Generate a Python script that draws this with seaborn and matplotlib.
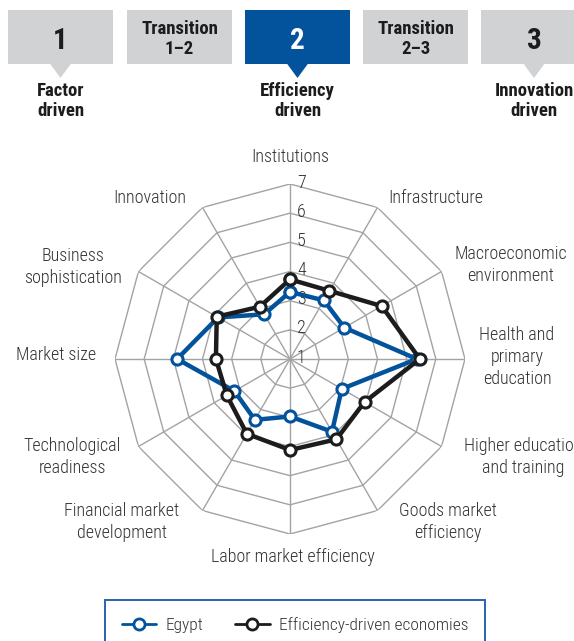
import numpy as np
import pandas as pd
import matplotlib
matplotlib.use("Agg")
import matplotlib.pyplot as plt
from matplotlib.patches import Rectangle, Polygon
from matplotlib.lines import Line2D
import seaborn as sns

# %%
pillars = [
    "Institutions", "Infrastructure", "Macroeconomic\nenvironment",
    "Health and\nprimary\neducation", "Higher education\nand training",
    "Goods market\nefficiency", "Labor market efficiency",
    "Financial market\ndevelopment", "Technological\nreadiness",
    "Market size", "Business\nsophistication", "Innovation",
]
egypt = [3.30, 3.32, 3.15, 5.35, 3.05, 3.88, 2.97, 3.41, 3.20, 4.87, 3.85, 2.77]
efficiency_driven = [3.73, 3.70, 4.63, 5.45, 3.95, 4.18, 4.12, 3.96, 3.50, 3.54, 3.90, 3.07]
ring_ticks = [1, 2, 3, 4, 5, 6, 7]
stages = ["1", "Transition\n1\u20132", "2", "Transition\n2\u20133", "3"]
stage_names = ["Factor\ndriven", "Efficiency\ndriven", "Innovation\ndriven"]
series_names = ["Egypt", "Efficiency-driven economies"]

W, H = 574, 641
BLUE = "#03529c"
DARK = "#1c1c1c"
GRID = "#a3a3a3"
TXT = "#333333"
GRAYBOX = "#d1d2d4"

sns.set_theme(style="white")
plt.rcParams["font.family"] = ["Roboto Condensed", "DejaVu Sans Condensed",
                               "Liberation Sans Narrow", "Roboto", "DejaVu Sans"]


def fx(x):
    return x / W


def fy(y):
    return 1 - y / H


fig = plt.figure(figsize=(W / 100, H / 100), dpi=100)

# ---- header boxes
boxes = [(8, 113), (127, 232), (245, 350), (363, 468), (481, 590)]
for i, ((x0, x1), lab) in enumerate(zip(boxes, stages)):
    main = i in (0, 2, 4)
    fc = BLUE if i == 2 else GRAYBOX
    fig.add_artist(Rectangle((fx(x0), fy(64)), fx(x1 - x0), (64 - 10) / H,
                             transform=fig.transFigure, facecolor=fc, edgecolor="none"))
    cx = (x0 + x1) / 2 if i < 4 else 534
    if main:
        fig.add_artist(Polygon([(fx(cx - 11), fy(63)), (fx(cx + 11), fy(63)), (fx(cx), fy(78))],
                               closed=True, transform=fig.transFigure, facecolor=fc, edgecolor="none"))
        fig.text(fx(cx), fy(41), lab, ha="center", va="center", fontsize=21,
                 fontweight="bold", color="white" if i == 2 else DARK)
        fig.text(fx(cx), fy(101), stage_names[i // 2], ha="center", va="center",
                 fontsize=13.5, fontweight="bold", color=DARK, linespacing=1.1)
    else:
        fig.text(fx(cx), fy(39), lab, ha="center", va="center", fontsize=13.5,
                 fontweight="bold", color=DARK, linespacing=1.1)

# ---- radar
cx, cy, R = 290, 359, 175
ax = fig.add_axes([fx(cx - R), fy(cy + R), 2 * R / W, 2 * R / H], projection="polar")
ax.set_theta_zero_location("N")
ax.set_theta_direction(-1)
ax.set_ylim(1, 7)
ax.grid(False)
ax.spines["polar"].set_visible(False)
ax.set_facecolor("none")

n = len(pillars)
theta = np.linspace(0, 2 * np.pi, n, endpoint=False)
theta_closed = np.append(theta, 2 * np.pi)

for k in ring_ticks[1:]:
    ax.plot(theta_closed, [k] * (n + 1), color=GRID, lw=1, zorder=1)
for t in theta:
    ax.plot([t, t], [ring_ticks[0], ring_ticks[-1]], color=GRID, lw=1, zorder=1)
for k in ring_ticks:
    ax.annotate(str(k), xy=(0, k), xytext=(5, 1), textcoords="offset points",
                ha="left", va="center", fontsize=13, fontweight="light",
                color=TXT, zorder=2)

df = pd.DataFrame({
    "theta": np.concatenate([theta_closed, theta_closed]),
    "score": egypt + egypt[:1] + efficiency_driven + efficiency_driven[:1],
    "series": [series_names[0]] * (n + 1) + [series_names[1]] * (n + 1),
})
for name, col in zip(series_names, [BLUE, DARK]):
    sns.lineplot(data=df[df["series"] == name], x="theta", y="score", ax=ax, sort=False,
                 color=col, lw=3.2, marker="o", markersize=8, markerfacecolor="white",
                 markeredgecolor=col, markeredgewidth=2.2, legend=False, zorder=3)
ax.set_xlabel("")
ax.set_ylabel("")
ax.set_xticks([])
ax.set_yticks([])
ax.set_ylim(1, 7)

# category labels (pixel centres)
label_pos = [(290, 157), (436, 198), (511, 265), (517, 357), (523, 457), (448, 522),
             (293, 557), (122, 522), (72, 457), (56, 355), (73, 267), (150, 198)]
for lab, (x, y) in zip(pillars, label_pos):
    fig.text(fx(x), fy(y), lab, ha="center", va="center", fontsize=13,
             fontweight="light", color=TXT, linespacing=1.25)

# ---- legend
fig.add_artist(Rectangle((fx(105), fy(652)), fx(380), 52 / H, transform=fig.transFigure,
                         facecolor="white", edgecolor="#2a63ad", lw=1.4))
handles = [Line2D([], [], color=c, lw=2, marker="o", markersize=8, markerfacecolor="white",
                  markeredgecolor=c, markeredgewidth=2) for c in [BLUE, DARK]]
fig.legend(handles, series_names, loc="center left", bbox_to_anchor=(fx(106), fy(625)),
           ncol=2, frameon=False, handlelength=2.0, columnspacing=1.8, handletextpad=0.55,
           prop={"size": 12.5, "weight": "light"}, labelcolor=TXT)

fig.savefig("out.png", dpi=100)
